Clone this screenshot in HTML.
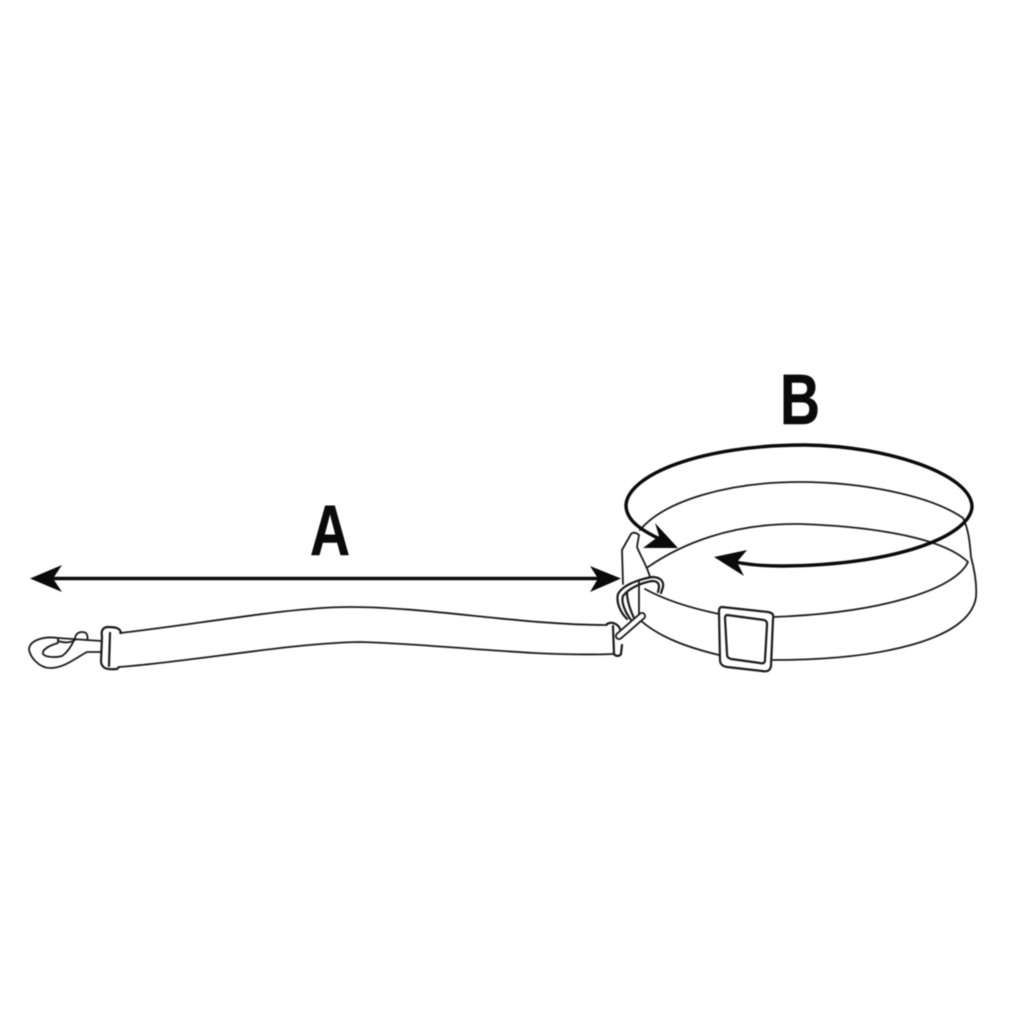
<!DOCTYPE html>
<html>
<head>
<meta charset="utf-8">
<style>
html,body{margin:0;padding:0;background:#fff;width:1024px;height:1024px;overflow:hidden}
svg{display:block;filter:blur(.45px)}
text{font-family:"Liberation Sans",sans-serif;font-weight:bold;fill:#0a0a0a}
</style>
</head>
<body>
<svg width="1024" height="1024" viewBox="0 0 1024 1024" xmlns="http://www.w3.org/2000/svg">
<rect width="1024" height="1024" fill="#fff"/>
<g fill="none" stroke="#1a1a1a" stroke-width="1.8" stroke-linecap="round" stroke-linejoin="round">
  <!-- collar inner upper curve and outer side -->
  <path d="M640 530 C665 500 730 482 800 482 C860 482 930 495 963 518 C969 530 970 545 971 557 C975 572 977 585 976 597 C970 640 880 660 773 660"/>
  <!-- collar second curve -->
  <path d="M648 567 C680 545 730 523 800 524 C860 526 940 535 968 562 C955 590 880 613 773 617"/>
  <!-- band left of buckle -->
  <path d="M645 589 C665 600 690 608 719 614"/>
  <path d="M640 620 C660 638 690 648 719 655"/>
  <!-- tab -->
  <path d="M623 584 L622 550 L631 534 Q634 531 639 535 L637 547 C641 557 647 566 650 577"/>
  <path d="M639 582 L639 618"/>
  <!-- leash -->
  <path d="M120 633 C200 624 290 607 350 607 C430 607 520 625 607 625"/>
  <path d="M119 667 C190 662 290 643 360 642 C440 644 530 657 614 654"/>
  <!-- snap hook -->
  <path d="M101 641 L58 638 C44 636 30 640 29 649 C30 658 40 668 50 668 C64 668 74 659 87 652 L101 652"/>
  <path d="M58 638 L58 643 C48 646 42 650 43 654 C45 657 55 658 62 656 C68 652 72 645 75 638 C76 632 82 631 86 633 C88 636 88 638 87 640"/>
  <path d="M58 641 C64 643 70 643 75 640"/>
</g>
<g fill="none" stroke="#1a1a1a" stroke-width="2.2" stroke-linejoin="round" stroke-linecap="round">
  <!-- leash left loop -->
  <path d="M121 633 C120 628 116 627 107 627 C102 628 101 632 102 636 L101 662 C102 668 106 670 117 669 L119 667"/>
  <path d="M110 633 L109 666"/>
  <!-- leash right loop -->
  <path d="M607 624 C612 621 618 624 620 629"/>
  <path d="M613 626 L614 654 C616 657 620 656 621 654 L622 645"/>
  <!-- buckle -->
  <path d="M722 607 L768 612 C773 613 774 615 773 619 L771 666 C770 671 767 672 762 671 L727 667 C722 666 720 664 720 660 L719 612 C719 608 720 607 722 607Z" fill="#fff"/>
  <path d="M727 615 L764 620 C767 621 767 622 767 625 L765 660 C765 663 763 664 760 663 L731 659 C728 658 727 657 727 654 L725 618 C725 616 726 615 727 615Z"/>
  <!-- D ring -->
  <path d="M627 619 C620 612 616 602 618 594 C622 586 636 580 652 577 C660 577 664 581 663 587 L661 593"/>
  <path d="M631 620 C625 612 621 602 623 596 C628 589 640 583 652 581 C657 581 659 583 659 587 L658 592"/>
  <path d="M627 592 C627 602 631 612 635 620"/>
</g>
<!-- D ring bar -->
<line x1="619" y1="636" x2="642" y2="616" stroke="#1a1a1a" stroke-width="8" stroke-linecap="round"/>
<line x1="619" y1="636" x2="642" y2="616" stroke="#fff" stroke-width="4.4" stroke-linecap="round"/>
<!-- bold measure ellipse -->
<path d="M664 541 C640 530 626 520 626 505 C628 475 700 445 805 445 C890 446 972 475 972 507 C970 535 900 565 782 566 C765 566 750 565 735 562" fill="none" stroke="#0a0a0a" stroke-width="3.4" stroke-linecap="round"/>
<!-- arrowheads B -->
<polygon points="678,548 655,523 659,536 643,548" fill="#0a0a0a"/>
<polygon points="714,557 747,550 737,562 744,576" fill="#0a0a0a"/>
<!-- arrow A -->
<line x1="50" y1="578.500" x2="600" y2="578.500" stroke="#0a0a0a" stroke-width="3.400"/>
<polygon points="30,578.500 62,565 53,578.500 62,592" fill="#0a0a0a"/>
<polygon points="621,578.500 590,566 598,578.500 590,592" fill="#0a0a0a"/>
<!-- labels -->
<text transform="translate(330 555) scale(.78 1)" text-anchor="middle" font-size="71" stroke="#0a0a0a" stroke-width=".5">A</text>
<text transform="translate(800 424) scale(.78 1)" text-anchor="middle" font-size="71" stroke="#0a0a0a" stroke-width=".5">B</text>
</svg>
</body>
</html>
